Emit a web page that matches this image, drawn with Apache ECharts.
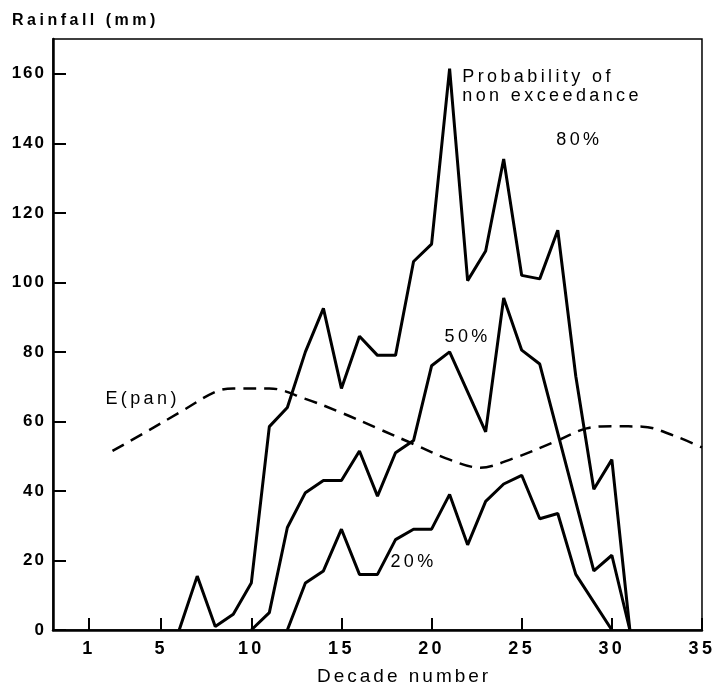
<!DOCTYPE html>
<html>
<head>
<meta charset="utf-8">
<title>Rainfall by decade</title>
<script src="https://cdn.jsdelivr.net/npm/echarts@6/dist/echarts.min.js"></script>
<style>
  html, body { margin: 0; padding: 0; background: #fff; }
  #chart { width: 715px; height: 688px; }
</style>
</head>
<body>
<div id="chart"></div>
<script>
// decade ticks on the x axis, rainfall ticks on the y axis
const xTicks = [1, 5, 10, 15, 20, 25, 30, 35]
const yTicks = [0, 20, 40, 60, 80, 100, 120, 140, 160]

// [decade, rainfall mm]
const p80 = [
  [6, 0], [7, 15.5], [8, 1], [9, 4.5], [10, 13.5], [11, 58.5], [12, 64],
  [13, 80], [14, 92.5], [15, 69.5], [16, 84.5], [17, 79], [18, 79],
  [19, 106], [20, 111], [21, 161.5], [22, 100.5], [23, 109], [24, 135.5],
  [25, 102], [26, 101], [27, 115], [28, 73], [29, 40.5], [30, 49], [31, 0],
]
const p50 = [
  [10, 0], [11, 5], [12, 29.5], [13, 39.5], [14, 43], [15, 43], [16, 51.5],
  [17, 38.5], [18, 51], [19, 54.5], [20, 76], [21, 80], [23, 57], [24, 95.5],
  [25, 80.5], [26, 76.5], [29, 17], [30, 21.5], [31, 0],
]
const p20 = [
  [12, 0], [13, 13.5], [14, 17], [15, 29], [16, 16], [17, 16], [18, 26],
  [19, 29], [20, 29], [21, 39], [22, 24.5], [23, 37], [24, 42], [25, 44.5],
  [26, 32], [27, 33.5], [28, 16], [30, 0],
]
const ePan = [
  [2.3, 51.5], [4, 56.5], [6, 62.5], [8, 68.5], [9, 69.5], [11, 69.5],
  [13, 66.5], [15, 62.5], [17, 58], [19, 53.5], [21, 49], [22.7, 46.7],
  [24.5, 49.3], [27, 54.5], [28.6, 58], [30, 58.6], [31.7, 58.5],
  [33.4, 56], [35, 52.5],
]

const ink = '#000'
const font = 'Liberation Sans'

// wide tracking like the typeset original: canvas letterSpacing picked by font size
const tracking = { 16: '3.5px', 17: '2px', 18: '3.4px', 19: '3px' }
const ctxProto = CanvasRenderingContext2D.prototype
const rawFill = ctxProto.fillText
ctxProto.fillText = function (...args) {
  const m = /(\d+)px/.exec(this.font)
  if ('letterSpacing' in this) this.letterSpacing = (m && tracking[m[1]]) || '0px'
  return rawFill.apply(this, args)
}

const chart = echarts.init(document.getElementById('chart'), null, { renderer: 'canvas' })

// text sitting next to a curve, placed in data space (centred on coord)
const note = (coord, text) => ({ coord, label: { formatter: text } })

const marks = (notes) => ({
  silent: true,
  symbol: 'circle',
  symbolSize: 0,
  label: {
    show: true, position: 'inside', color: ink,
    fontFamily: font, fontSize: 18, lineHeight: 19,
  },
  data: notes,
})

const solid = (name, data, notes) => ({
  name,
  type: 'line',
  data,
  symbol: 'none',
  lineStyle: { color: ink, width: 3 },
  markPoint: marks(notes),
})

const option = {
  animation: false,
  textStyle: { fontFamily: font, color: ink },
  title: [
    { text: 'Rainfall (mm)', left: 7, top: 8,
      textStyle: { fontFamily: font, fontSize: 16, fontWeight: 'bold', color: ink } },
    { text: 'Decade number', left: 312, top: 662,
      textStyle: { fontFamily: font, fontSize: 19, fontWeight: 'normal', color: ink } },
  ],
  grid: { left: 53, right: 13, top: 39, bottom: 58, show: true, borderColor: ink, borderWidth: 1.5 },
  xAxis: {
    type: 'value', min: -1, max: 35,
    axisLine: { show: true, onZero: false, lineStyle: { color: ink, width: 2.5 } },
    axisTick: { show: true, inside: true, length: 12, customValues: xTicks,
      lineStyle: { color: ink, width: 2 } },
    axisLabel: { customValues: xTicks, color: ink, fontSize: 18, fontWeight: 'bold', margin: 10 },
    splitLine: { show: false },
  },
  yAxis: {
    type: 'value', min: 0, max: 170,
    axisLine: { show: true, onZero: false, lineStyle: { color: ink, width: 2.5 } },
    axisTick: { show: true, inside: true, length: 13, customValues: yTicks,
      lineStyle: { color: ink, width: 2 } },
    axisLabel: { customValues: yTicks, color: ink, fontSize: 17, fontWeight: 'bold', margin: 7 },
    splitLine: { show: false },
  },
  series: [
    solid('80%', p80, [
      {
        coord: [21.7, 156.3],
        label: { formatter: 'Probability of\nnon exceedance', position: 'right', distance: 0 },
      },
      note([28.2, 140.9], '80%'),
    ]),
    solid('50%', p50, [note([22.0, 84.2], '50%')]),
    solid('20%', p20, [note([19.0, 19.5], '20%')]),
    {
      name: 'E(pan)',
      type: 'line',
      data: ePan,
      symbol: 'none',
      smooth: 0.35,
      lineStyle: { color: ink, width: 2.5, type: [13, 8] },
      markPoint: marks([note([3.97, 66.5], 'E(pan)')]),
    },
  ],
}

chart.setOption(option)
</script>
</body>
</html>
